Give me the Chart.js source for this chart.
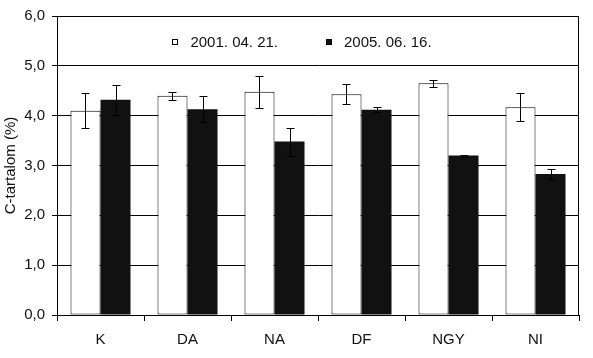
<!DOCTYPE html>
<html>
<head>
<meta charset="utf-8">
<script src="https://cdn.jsdelivr.net/npm/chart.js@4"></script>
<style>
    html, body { margin: 0; padding: 0; background: #fff; }
    #wrap { width: 593px; height: 358px; }
</style>
</head>
<body>
<div id="wrap"><canvas id="chart" width="593" height="358"></canvas></div>
<script>
// Chart data
const categories = ['K', 'DA', 'NA', 'DF', 'NGY', 'NI'];
const seriesLabels = ['2001. 04. 21.', '2005. 06. 16.'];
const values2001 = [4.10, 4.40, 4.48, 4.43, 4.65, 4.17];
const errors2001 = [0.35, 0.08, 0.32, 0.20, 0.07, 0.28];
const values2005 = [4.32, 4.13, 3.48, 4.12, 3.20, 2.83];
const errors2005 = [0.30, 0.26, 0.28, 0.05, 0.02, 0.10];
const yTicks = [0, 1, 2, 3, 4, 5, 6];

const FONT = '"Liberation Sans", Arial, sans-serif';

// Frame round the plot area
const framePlugin = {
    id: 'frame',
    beforeDatasetsDraw(chart) {
        const a = chart.chartArea;
        const ctx = chart.ctx;
        ctx.save();
        ctx.strokeStyle = '#000';
        ctx.lineWidth = 1;
        ctx.strokeRect(Math.round(a.left) + 0.5, Math.round(a.top) + 0.5,
            Math.round(a.right - a.left) - 1, Math.round(a.bottom - a.top));
        ctx.restore();
    }
};

// Error bars drawn over each bar
const errorBarPlugin = {
    id: 'errorBars',
    afterDatasetsDraw(chart) {
        const ctx = chart.ctx;
        const y = chart.scales.y;
        ctx.save();
        ctx.strokeStyle = '#000';
        ctx.lineWidth = 1;
        chart.data.datasets.forEach((ds, i) => {
            const meta = chart.getDatasetMeta(i);
            meta.data.forEach((bar, j) => {
                const v = ds.data[j];
                const e = ds.errors[j];
                const x = Math.round(bar.x) + 0.5;
                const top = Math.round(y.getPixelForValue(v + e)) + 0.5;
                const bot = Math.round(y.getPixelForValue(v - e)) + 0.5;
                ctx.beginPath();
                ctx.moveTo(x, top); ctx.lineTo(x, bot);
                ctx.moveTo(x - 4, top); ctx.lineTo(x + 4, top);
                ctx.moveTo(x - 4, bot); ctx.lineTo(x + 4, bot);
                ctx.stroke();
            });
        });
        ctx.restore();
    }
};

// Legend inside the plot area, on one row
const insideLegendPlugin = {
    id: 'insideLegend',
    afterDraw(chart) {
        const ctx = chart.ctx;
        const a = chart.chartArea;
        const box = 6, gap = 12, spacing = 48;
        ctx.save();
        ctx.font = '15px ' + FONT;
        ctx.textBaseline = 'middle';
        const widths = chart.data.datasets.map(ds => box + gap + ctx.measureText(ds.label).width);
        const total = widths.reduce((s, w) => s + w, 0) + spacing * (widths.length - 1);
        let x = (a.left + a.right) / 2 - total / 2 - 16;
        const cy = a.top + 26;
        chart.data.datasets.forEach((ds, i) => {
            ctx.fillStyle = ds.backgroundColor;
            ctx.fillRect(Math.round(x), Math.round(cy - box / 2), box, box);
            ctx.strokeStyle = '#000';
            ctx.lineWidth = 1;
            ctx.strokeRect(Math.round(x) + 0.5, Math.round(cy - box / 2) + 0.5, box - 1, box - 1);
            ctx.fillStyle = '#111';
            ctx.fillText(ds.label, x + box + gap, cy + 1);
            x += widths[i] + spacing;
        });
        ctx.restore();
    }
};

const ctx = document.getElementById('chart');
new Chart(ctx, {
    type: 'bar',
    data: {
        labels: categories,
        datasets: [{
            label: seriesLabels[0],
            data: values2001,
            errors: errors2001,
            backgroundColor: '#ffffff',
            borderColor: '#000000',
            borderWidth: 1,
            borderSkipped: false,
            categoryPercentage: 0.69,
            barPercentage: 1.0
        }, {
            label: seriesLabels[1],
            data: values2005,
            errors: errors2005,
            backgroundColor: '#111111',
            borderColor: '#111111',
            borderWidth: 0,
            categoryPercentage: 0.69,
            barPercentage: 1.0
        }]
    },
    options: {
        responsive: false,
        animation: false,
        devicePixelRatio: 1,
        layout: { padding: { top: 15, right: 14, left: 0, bottom: 0 } },
        plugins: {
            legend: { display: false },
            tooltip: { enabled: false }
        },
        scales: {
            x: {
                grid: {
                    offset: true,
                    drawOnChartArea: false,
                    drawTicks: true,
                    tickLength: 6,
                    color: '#000'
                },
                border: { display: true, color: '#000', width: 1 },
                ticks: {
                    color: '#111',
                    font: { family: FONT, size: 15 },
                    padding: 10
                },
                afterFit(scale) { scale.height = 43; }
            },
            y: {
                min: 0,
                max: 6,
                afterBuildTicks(scale) {
                    scale.ticks = yTicks.map(v => ({ value: v }));
                },
                grid: {
                    color: '#000',
                    drawTicks: true,
                    tickLength: 5
                },
                border: { display: true, color: '#000', width: 1 },
                ticks: {
                    color: '#111',
                    font: { family: FONT, size: 15 },
                    padding: 7,
                    callback: v => v.toFixed(1).replace('.', ',')
                },
                title: {
                    display: true,
                    text: 'C-tartalom (%)',
                    color: '#111',
                    font: { family: FONT, size: 15 },
                    padding: { top: 2, bottom: 2 }
                },
                afterFit(scale) { scale.width = 57; }
            }
        }
    },
    plugins: [framePlugin, errorBarPlugin, insideLegendPlugin]
});
</script>
</body>
</html>
